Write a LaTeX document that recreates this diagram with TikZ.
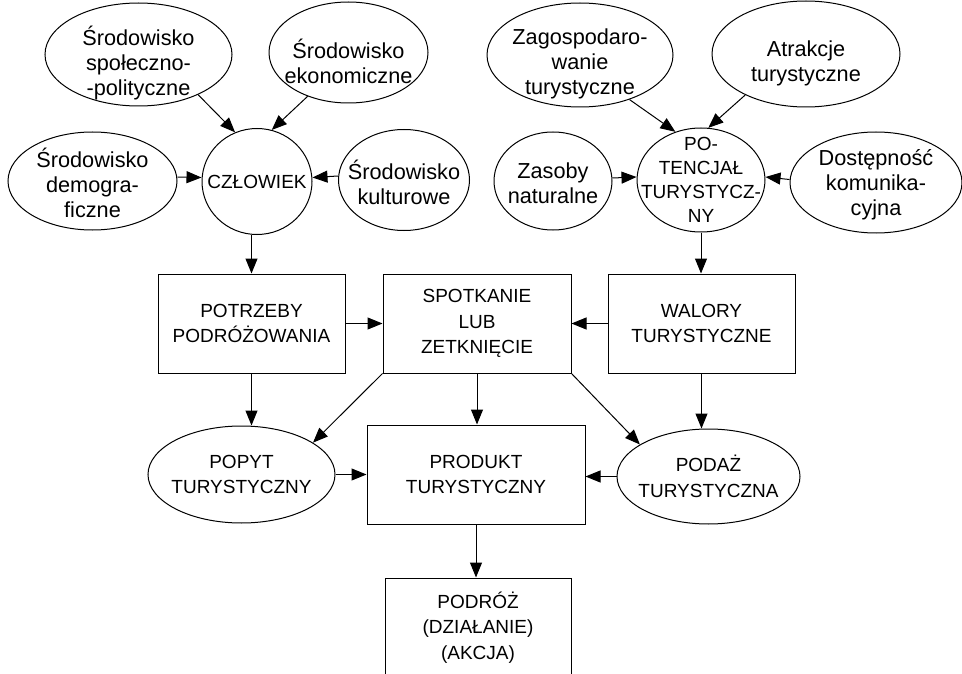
\documentclass[tikz,border=0pt]{standalone}
\usepackage{fontspec}
\setmainfont{Liberation Sans}
\usetikzlibrary{shapes.geometric,arrows.meta}
\tikzset{
  lowtxt/.style={font=\fontsize{21.7}{25}\selectfont},
  uptxt/.style={font=\fontsize{19}{25.5}\selectfont},
  ell/.style={draw, ellipse, inner sep=0pt, line width=1pt},
  lowlab/.style={label={[lowtxt, align=center, inner sep=0pt, yshift=-2pt]center:#1}},
  toplab/.style={label={[lowtxt, align=center, inner sep=0pt, yshift=-9pt]center:#1}},
  uplab/.style={label={[uptxt, align=center, inner sep=0pt]center:#1}},
  boxnode/.style={draw, rectangle, inner sep=0pt, align=center, line width=1pt, uptxt},
  arr/.style={line width=1pt, -{Triangle[length=15pt,width=12pt]}},
}
\begin{document}
\begin{tikzpicture}[x=1pt,y=-1pt]
\useasboundingbox (0,0) rectangle (962,674);
% top-left ellipses
\node[ell, minimum width=187pt, minimum height=103pt, toplab={Środowisko\\społeczno-\\-polityczne}] (spol) at (138.5,54.5) {};
\node[ell, minimum width=159pt, minimum height=101pt, toplab={Środowisko\\ekonomiczne}] (ekon) at (348.5,52.5) {};
\node[ell, minimum width=169pt, minimum height=98pt, lowlab={Środowisko\\demogra-\\ficzne}] (demo) at (92.5,181) {};
\node[ell, minimum width=110pt, minimum height=106pt, uplab={CZŁOWIEK}] (czl) at (257,181.5) {};
\node[ell, minimum width=131pt, minimum height=101pt, lowlab={Środowisko\\kulturowe}] (kult) at (404,180) {};
% top-right ellipses
\node[ell, minimum width=186pt, minimum height=104pt, toplab={Zagospodaro-\\wanie\\turystyczne}] (zag) at (580,55) {};
\node[ell, minimum width=188pt, minimum height=106pt, toplab={Atrakcje\\turystyczne}] (atr) at (806,54) {};
\node[ell, minimum width=118pt, minimum height=98pt, lowlab={Zasoby\\naturalne}] (zas) at (553,181) {};
\node[ell, minimum width=128pt, minimum height=104pt, label={[font=\fontsize{19}{24}\selectfont, align=center, inner sep=0pt]center:PO-\\TENCJAŁ\\TURYSTYCZ-\\NY}] (pot) at (701,180) {};
\node[ell, minimum width=172pt, minimum height=101pt, lowlab={Dostępność\\komunika-\\cyjna}] (dost) at (876,182.5) {};
% boxes
\node[boxnode, minimum width=187pt, minimum height=99pt] (potrz) at (251.5,323.5) {POTRZEBY\\PODRÓŻOWANIA};
\node[boxnode, minimum width=188pt, minimum height=99pt] (spot) at (477,323.5) {SPOTKANIE\\LUB\\ZETKNIĘCIE};
\node[boxnode, minimum width=187pt, minimum height=99pt] (wal) at (701.5,323.5) {WALORY\\TURYSTYCZNE};
\node[boxnode, minimum width=218pt, minimum height=99pt] (prod) at (476,474.5) {PRODUKT\\TURYSTYCZNY};
\node[boxnode, minimum width=186pt, minimum height=99pt] (podr) at (478,627.5) {PODRÓŻ\\(DZIAŁANIE)\\(AKCJA)};
% bottom ellipses
\node[ell, minimum width=187pt, minimum height=97pt, uplab={POPYT\\TURYSTYCZNY}] (popyt) at (241.5,474.5) {};
\node[ell, minimum width=183pt, minimum height=95pt, uplab={PODAŻ\\TURYSTYCZNA}] (podaz) at (708.5,476.5) {};
% connectors
\draw[arr] (spol.-34) -- (czl.114);
\draw[arr] (ekon.-133) -- (czl.74);
\draw[arr] ([yshift=4pt]demo.east) -- ([yshift=4pt]czl.west);
\draw[arr] ([yshift=4pt]kult.west) -- ([yshift=4pt]czl.east);
\draw[arr] (zag.-42) -- (pot.118);
\draw[arr] (atr.-146) -- (pot.82);
\draw[arr] ([yshift=3pt]zas.east) -- ([yshift=3pt]pot.west);
\draw[arr] ([yshift=3pt]dost.west) -- ([yshift=3pt]pot.east);
\draw[arr] (czl.south -| potrz.north) -- (potrz.north);
\draw[arr] (pot.south) -- (pot.south |- wal.north);
\draw[arr] (potrz.east) -- (spot.west);
\draw[arr] (wal.west) -- (spot.east);
\draw[arr] (potrz.south) -- (potrz.south |- popyt.north);
\draw[arr] (spot.south west) -- (popyt.24);
\draw[arr] (spot.south) -- (spot.south |- prod.north);
\draw[arr] (spot.south east) -- (podaz.155);
\draw[arr] (wal.south) -- (wal.south |- podaz.north);
\draw[arr] (popyt.east) -- (prod.west);
\draw[arr] (podaz.west) -- (prod.east |- podaz.west);
\draw[arr] (prod.south) -- (prod.south |- podr.north);
\end{tikzpicture}
\end{document}
